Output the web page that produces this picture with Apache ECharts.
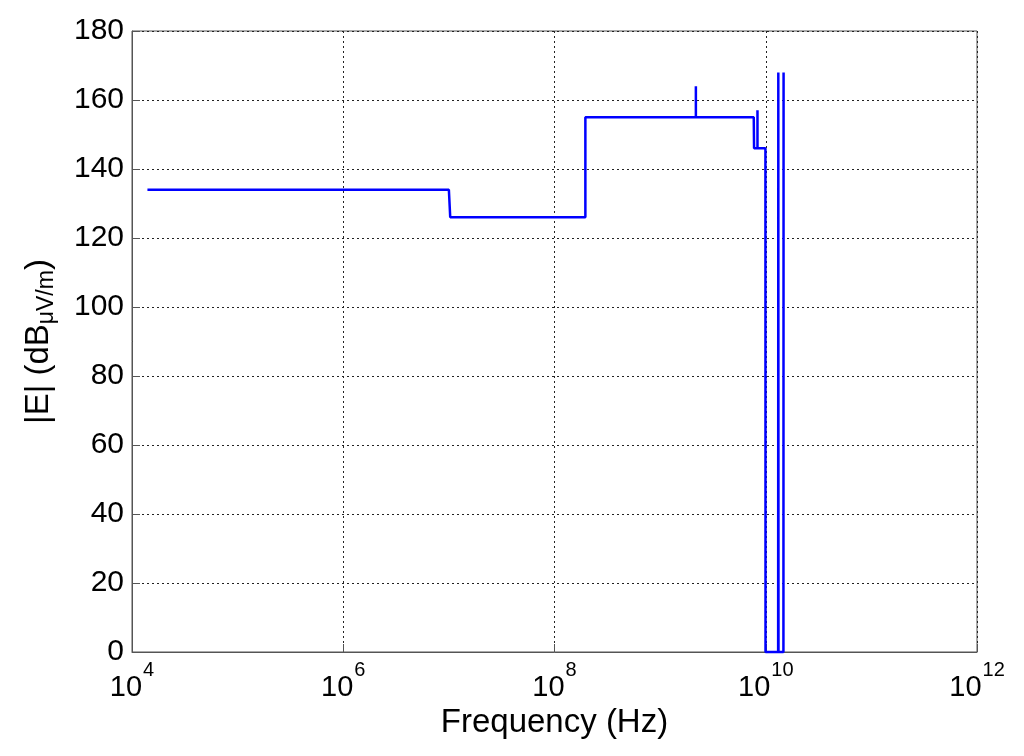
<!DOCTYPE html>
<html>
<head>
<meta charset="utf-8">
<script src="https://cdn.jsdelivr.net/npm/echarts@6/dist/echarts.min.js"></script>
<style>
  html, body { margin: 0; padding: 0; background: #fff; }
  #chart { width: 1024px; height: 756px; }
</style>
</head>
<body>
<div id="chart"></div>
<script>
// frequency (Hz) and field level (dB uV/m)
const freq = [1.4e4, 1.0e7, 1.03e7, 1.96e8, 1.96e8, 2.18e9, 2.18e9, 2.18e9, 7.7e9, 7.75e9, 8.35e9, 8.35e9, 8.35e9, 9.93e9, 9.95e9, 1.31e10, 1.315e10, 1.32e10, 1.47e10, 1.475e10];
const level = [134, 134, 126, 126, 155, 155, 164, 155, 155, 146, 146, 157, 146, 146, 0, 0, 168, 0, 0, 168];
const yTicks = [0, 20, 40, 60, 80, 100, 120, 140, 160, 180];

const chart = echarts.init(document.getElementById('chart'));
const font = 'Liberation Sans, Arial, sans-serif';

const option = {
  animation: false,
  backgroundColor: '#fff',
  grid: { left: 132, right: 47, top: 31, bottom: 104, show: true, borderColor: '#555', borderWidth: 1 },
  xAxis: {
    type: 'log',
    logBase: 10,
    min: 1e4,
    max: 1e12,
    interval: 2,
    name: 'Frequency (Hz)',
    nameLocation: 'middle',
    nameGap: 44,
    nameTextStyle: { fontFamily: font, fontSize: 33, color: '#000' },
    axisLine: { lineStyle: { color: '#555' } },
    axisTick: { inside: true, length: 8, lineStyle: { color: '#555' } },
    minorTick: { show: false },
    splitLine: { show: true, lineStyle: { color: '#222', type: [2, 3], width: 1 } },
    axisLabel: {
      margin: 8,
      formatter: function (v) {
        const e = Math.round(Math.log10(v));
        return '{b|10}{s|' + e + '}';
      },
      rich: {
        b: { fontFamily: font, fontSize: 29, color: '#000', verticalAlign: 'bottom' },
        s: { fontFamily: font, fontSize: 20, color: '#000', verticalAlign: 'top', padding: [0, 0, 22, 1] }
      }
    }
  },
  yAxis: {
    type: 'value',
    min: 0,
    max: 180,
    interval: 20,
    name: '{a||E| (dB}{s|μV/m}{a|)}',
    nameLocation: 'middle',
    nameGap: 74,
    nameTextStyle: {
      rich: {
        a: { fontFamily: font, fontSize: 33, color: '#000' },
        s: { fontFamily: font, fontSize: 23, color: '#000', padding: [16, 0, 0, 0] }
      }
    },
    axisLine: { lineStyle: { color: '#555' } },
    axisTick: { inside: true, length: 8, lineStyle: { color: '#555' } },
    splitLine: { show: true, lineStyle: { color: '#222', type: [2, 3], width: 1 } },
    axisLabel: {
      fontFamily: font, fontSize: 30, color: '#000', margin: 8,
      formatter: function (v) { return yTicks.indexOf(v) >= 0 ? String(v) : ''; }
    }
  },
  series: [{
    type: 'line',
    data: freq.map((f, i) => [f, level[i]]),
    showSymbol: false,
    lineStyle: { color: '#0000ff', width: 2.5 },
    clip: false
  }]
};

chart.setOption(option);
</script>
</body>
</html>
